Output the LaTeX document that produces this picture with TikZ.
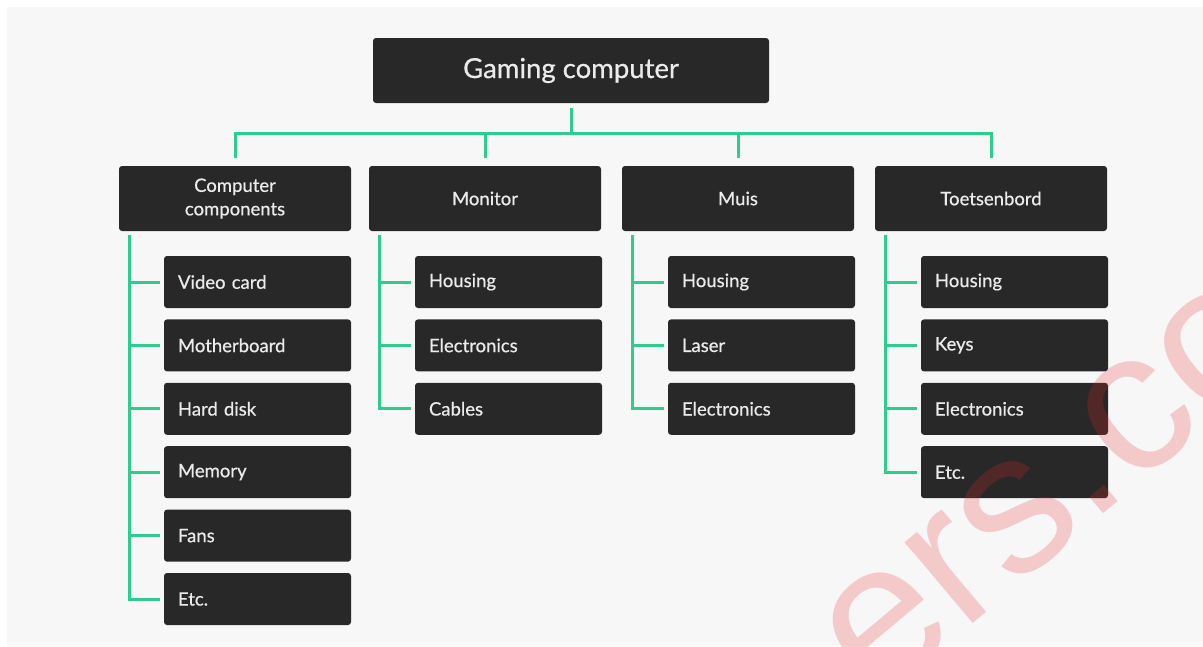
\documentclass[tikz,border=0pt]{standalone}
\usepackage{fontspec}
\setmainfont{Lato}[FakeBold=0.6]
\newfontfamily\markfont{Liberation Sans}
\usetikzlibrary{calc}
\definecolor{panel}{HTML}{F7F7F7}
\definecolor{boxfill}{HTML}{282828}
\definecolor{boxtext}{HTML}{EBEBEB}
\definecolor{wirecol}{HTML}{2ECC8F}
\definecolor{markcol}{HTML}{E8262B}

\begin{document}
\begin{tikzpicture}[x=1pt,y=-1pt,
  card/.style={fill=boxfill, rounded corners=3pt, text=boxtext, inner sep=0pt},
  rootbox/.style={card, minimum width=396pt, minimum height=65pt, font=\fontsize{27.5}{31}\selectfont},
  groupbox/.style={card, minimum width=232pt, minimum height=65pt, align=center, font=\fontsize{18.5}{23.5}\selectfont},
  leafbox/.style={card, minimum height=52pt, text width=159pt, inner xsep=14pt, align=left, font=\fontsize{18.5}{22}\selectfont},
  wire/.style={draw=wirecol, line width=3pt},
]
% canvas and background panel
\useasboundingbox (0,0) rectangle (1203,646);
\clip (0,0) rectangle (1203,646);
\fill[white] (0,0) rectangle (1203,646);
\fill[panel] (7,7) rectangle (1203,646);

% root and the four groups
\node[rootbox] (top) at (571,70.5) {Gaming computer};
\node[groupbox] (g1) at (235,198.5) {Computer\\components};
\node[groupbox] (g2) at (485,198.5) {Monitor};
\node[groupbox] (g3) at (738,198.5) {Muis};
\node[groupbox] (g4) at (991,198.5) {Toetsenbord};

% leaves
\foreach \t [count=\i] in {Video card, Motherboard, Hard disk, Memory, Fans, Etc.}
  \node[leafbox] (a\i) at (257.5,{218.6+63.4*\i}) {\t};
\foreach \t [count=\i] in {Housing, Electronics, Cables}
  \node[leafbox] (b\i) at (508.5,{218.6+63.4*\i}) {\t};
\foreach \t [count=\i] in {Housing, Laser, Electronics}
  \node[leafbox] (c\i) at (761.5,{218.6+63.4*\i}) {\t};
\foreach \t [count=\i] in {Housing, Keys, Electronics, Etc.}
  \node[leafbox] (d\i) at (1014.5,{218.6+63.4*\i}) {\t};

% root to groups
\coordinate (hub) at ($(top.south)+(0,30)$);
\draw[wire] ($(top.south)+(0,5)$) -- (hub);
\draw[wire] ($(g1.north)+(0,-8)$) |- (hub) -| ($(g4.north)+(0,-8)$);
\draw[wire] (hub -| g2.north) -- ($(g2.north)+(0,-8)$);
\draw[wire] (hub -| g3.north) -- ($(g3.north)+(0,-8)$);

% group spines and leaf ticks
\foreach \g/\l/\n in {g1/a/6, g2/b/3, g3/c/3, g4/d/4} {
  \coordinate (s\g) at ($(\g.south west)+(11,4)$);
  \draw[wire] (s\g) |- ($(\l\n.west)+(-4,0)$);
  \foreach \i in {1,...,\n}
    \draw[wire] (s\g |- \l\i.west) -- ($(\l\i.west)+(-4,0)$);
}

% watermark
\node[rotate=40, anchor=base west, inner sep=0pt, text=markcol, opacity=0.22,
      font=\markfont\fontsize{200}{200}\selectfont] (wm) at (877,704) {ers.co};
\end{tikzpicture}
\end{document}
